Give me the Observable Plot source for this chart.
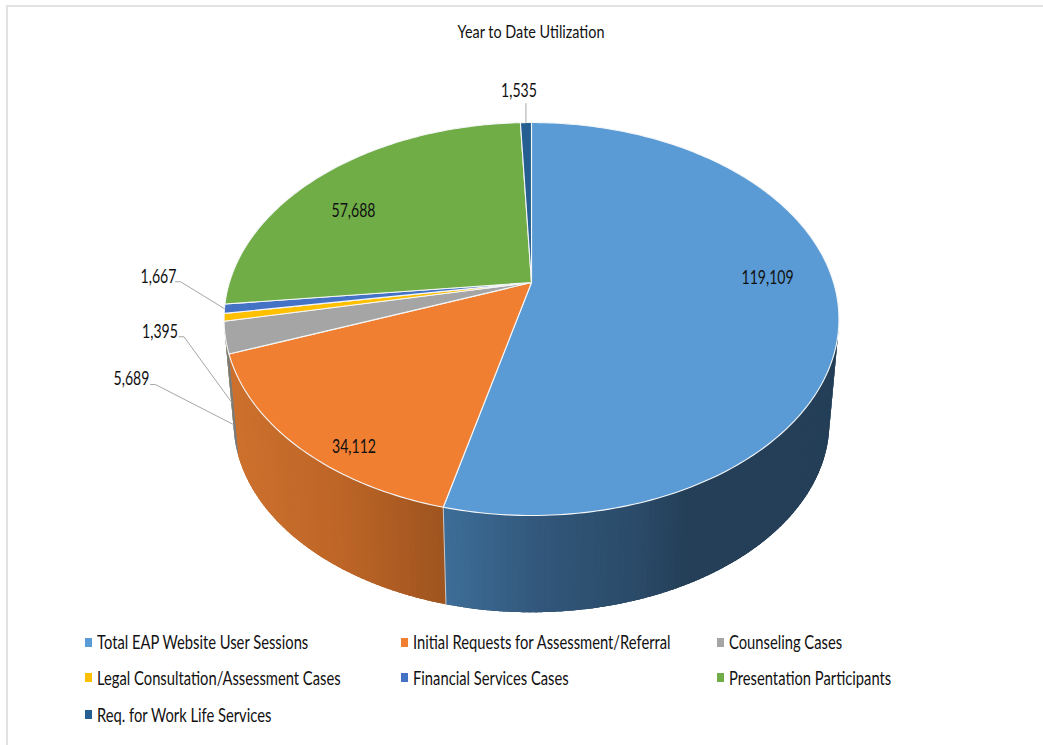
<!DOCTYPE html>
<html><head><meta charset="utf-8">
<script src="https://cdn.jsdelivr.net/npm/d3@7"></script>
<script src="https://cdn.jsdelivr.net/npm/@observablehq/plot@0.6"></script>
<style>
html,body{margin:0;padding:0;background:#fff}
#page{position:relative;width:1043px;height:745px;overflow:hidden;font-family:"Lato",sans-serif;color:#111}
#frame{position:absolute;left:6px;top:5px;right:0;bottom:0;border-left:2px solid #e2e2e2;border-top:2px solid #e2e2e2}
#title{position:absolute;left:0;width:1062px;top:22px;text-align:center;font-size:16.5px;line-height:20px;transform:scaleX(.873);transform-origin:531px 50%}
#chart{position:absolute;left:0;top:50px}
.lg{position:absolute;font-size:18.5px;line-height:20px;white-space:nowrap;transform:scaleX(.797);transform-origin:0 50%}
.sw{position:absolute;width:7px;height:9px}
</style></head><body>
<div id="page"><div id="frame"></div><div id="title"></div><div id="chart"></div></div>
<script>
const titleText = "Year to Date Utilization";
const categories = ["Total EAP Website User Sessions","Initial Requests for Assessment/Referral","Counseling Cases","Legal Consultation/Assessment Cases","Financial Services Cases","Presentation Participants","Req. for Work Life Services"];
const values = [119109,34112,5689,1395,1667,57688,1535];
const colors = ["#5B9BD5","#F07F32","#A5A5A5","#FFC000","#4472C4","#70AD47","#255E91"];
const sideStops = [
  [[443,540,640,690],["#3d6e98","#32577a","#2a4a68","#243f57"]],
  [[235,340,443],["#cc702d","#bd6527","#9e541f"]],
  [[225,236],["#7d7d7d","#6f6f6f"]],
  [[225,236],["#a88a20","#a88a20"]],
  [[225,236],["#30528c","#30528c"]],
  [[225,236],["#4f7a32","#4f7a32"]],
  [[225,236],["#1a4266","#1a4266"]]
];
// label placement: radial fraction or rim/depth anchor plus pixel nudges
const labelPlace = [
  {f:0.78,dx:-2,dy:-23},{f:0.78,dx:-2,dy:41},
  {t:0.85,ex:-78,ey:-40,ox:-102,oy:-45},
  {t:0.83,ex:-48,ey:-66,ox:-72,oy:-71},
  {t:0,ex:-44,ey:-27,ox:-66,oy:-32},
  {f:0.72,dx:-26,dy:10},
  {t:0,ex:0,ey:-19,ox:-7,oy:-31,top:true}
];

// Perspective of the disc
const cx=531, apexY=282, p=0.1858, A=302.1, B=189.7;
const depthScale=0.969, floorY=386;
const top0=50, svgH=572;
const rad=d=>d*Math.PI/180;
function project(deg,f=1,t=0){
  const X=f*Math.sin(rad(deg)), Y=f*Math.cos(rad(deg)), w=1+p*Y;
  const u=A*X/w, v=-B*Y/w;
  return {x:cx+u*(1+(depthScale-1)*t), y:apexY*(1-t)+floorY*t+v*(1+(depthScale-1)*t)};
}
const total=d3.sum(values);
let acc=0;
const slices=values.map((v,i)=>{const a0=acc/total*360; acc+=v; return {i,a0,a1:acc/total*360,mid:(a0+v/total*180)};});

// side strips, painted in angle order with overlap so no seams show
const hidden=Math.acos(-p)*180/Math.PI;
const sideL=hidden, sideR=360-hidden;
const under=[], strips=[], seams=[];
let sid=0;
for(const s of slices){
  const lo=Math.max(s.a0,sideL), hi=Math.min(s.a1,sideR);
  if(hi<=lo) continue;
  const [dom,rng]=sideStops[s.i];
  const shade=d3.scaleLinear().domain(dom).range(rng).clamp(true);
  const n=Math.ceil(hi-lo), step=(hi-lo)/n;
  const uc=d3.color(shade(project((lo+hi)/2).x)).formatHex();
  for(let k=0;k<=n;k++) under.push({...project(lo+k*step),id:s.i,c:uc});
  for(let k=n;k>=0;k--) under.push({...project(lo+k*step,1,1),id:s.i,c:uc});
  for(let k=0;k<n;k++){
    const a=lo+k*step, b=Math.min(a+step*1.6,hi), m=3;
    const c=d3.color(shade(project(a+step/2).x)).formatHex();
    for(let j=0;j<=m;j++) strips.push({...project(a+(b-a)*j/m),id:sid,c});
    for(let j=m;j>=0;j--) strips.push({...project(a+(b-a)*j/m,1,1),id:sid,c});
    sid++;
  }
}
const seamA=slices[0].a1;
seams.push(project(seamA),project(seamA,1,1));
// top face
const face=[];
for(const s of slices){
  const apex={x:cx,y:apexY,id:s.i,c:colors[s.i]};
  face.push(apex);
  const n=Math.max(2,Math.ceil(s.a1-s.a0));
  for(let k=0;k<=n;k++){
    face.push({...project(s.a0+(s.a1-s.a0)*k/n),id:s.i,c:colors[s.i]});
  }
  face.push(apex);
}
// labels and leaders
const fmt=d3.format(",");
const labels=[], leaders=[];
slices.forEach(s=>{
  const L=labelPlace[s.i], text=fmt(values[s.i]);
  if(L.f!==undefined){
    const o=project(s.mid,L.f);
    labels.push({x:o.x+L.dx,y:o.y+L.dy,text});
  } else {
    const o=project(s.mid,1,L.t);
    leaders.push({x:o.x,y:o.y,id:s.i});
    leaders.push({x:o.x+L.ex,y:o.y+L.ey,id:s.i});
    if(!L.top) leaders.push({x:o.x+L.ex-5,y:o.y+L.ey,id:s.i});
    labels.push({x:o.x+L.ox,y:o.y+L.oy,text});
  }
});

const chart=Plot.plot({
  width:1043,height:svgH,margin:0,
  style:{background:"transparent",overflow:"visible"},
  x:{domain:[0,1043],range:[0,1043],axis:null},
  y:{domain:[top0,top0+svgH],range:[0,svgH],axis:null},
  marks:[
    Plot.line(under,{x:"x",y:"y",z:"id",fill:{value:"c",scale:null},stroke:"none",curve:"linear"}),
    Plot.line(strips,{x:"x",y:"y",z:"id",fill:{value:"c",scale:null},stroke:"none",curve:"linear"}),
    Plot.line(seams,{x:"x",y:"y",stroke:"#c9c9c9",strokeWidth:1}),
    Plot.line(face,{x:"x",y:"y",z:"id",fill:{value:"c",scale:null},stroke:"#f4f6f8",strokeWidth:1.1,curve:"linear",strokeLinejoin:"round"}),
    Plot.line(leaders,{x:"x",y:"y",z:"id",stroke:"#a6a6a6",strokeWidth:1,curve:"linear"}),
    Plot.text(labels,{x:"x",y:"y",text:"text",fontSize:18.5,fill:"#111",fontFamily:'"Lato",sans-serif',textAnchor:"middle"})
  ]
});
document.getElementById("chart").appendChild(chart);
d3.select(chart).selectAll("text").each(function(){
  const w=this.getComputedTextLength();
  this.setAttribute("textLength",(w*0.76).toFixed(1));
  this.setAttribute("lengthAdjust","spacingAndGlyphs");
});
document.getElementById("title").textContent=titleText;
const lg=document.getElementById("page");
const colX=[85,401,717], rowY=[642,678,715], swY=[638,673,710];
categories.forEach((c,i)=>{
  const col=i%3,row=Math.floor(i/3);
  const sw=document.createElement("div");sw.className="sw";
  sw.style.left=colX[col]+"px";sw.style.top=swY[row]+"px";sw.style.background=colors[i];
  lg.appendChild(sw);
  const t=document.createElement("div");t.className="lg";t.textContent=c;
  t.style.left=(colX[col]+12)+"px";t.style.top=(rowY[row]-10)+"px";
  lg.appendChild(t);
});
</script></body></html>
